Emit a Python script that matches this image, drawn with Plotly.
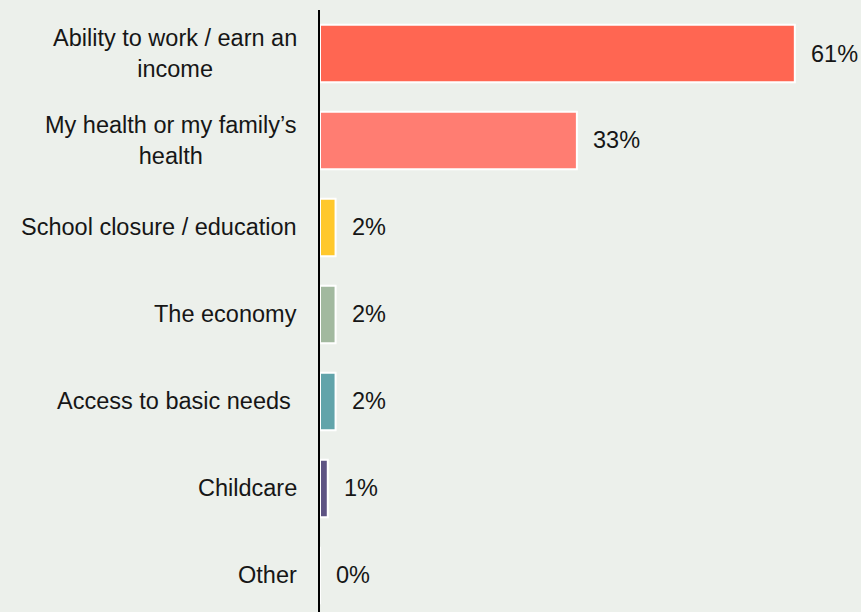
import plotly.graph_objects as go

# Survey responses: biggest concern
categories = [
    "Ability to work / earn an<br>income",
    "My health or my family’s<br>health",
    "School closure / education",
    "The economy",
    "Access to basic needs ",
    "Childcare",
    "Other",
]
values = [61, 33, 2, 2, 2, 1, 0]
bar_colors = ["#FF6652", "#FF7D72", "#FFC82C", "#A2B99F", "#61A4AA", "#5D5383", "#FFFFFF"]

BG = "#ECF0EB"
TEXT = "#161616"
FONT = "Liberation Sans, Arial, Helvetica, sans-serif"
FSIZE = 23.5

fig = go.Figure(
    go.Bar(
        x=values,
        y=categories,
        orientation="h",
        marker=dict(color=bar_colors, line=dict(color="white", width=2)),
        hoverinfo="skip",
    )
)

# Category labels, centred multi-line text to the left of the axis
for cat in categories:
    fig.add_annotation(
        x=0, xref="paper", y=cat, yref="y",
        text=cat, showarrow=False,
        xanchor="right", xshift=-21, align="center",
        font=dict(family=FONT, size=FSIZE, color=TEXT),
    )

# Value labels to the right of each bar
for cat, v in zip(categories, values):
    fig.add_annotation(
        x=v, xref="x", y=cat, yref="y",
        text=f"{v}%", showarrow=False,
        xanchor="left", xshift=14,
        font=dict(family=FONT, size=FSIZE, color=TEXT),
    )

fig.update_layout(
    width=861, height=612,
    margin=dict(l=320, r=0, t=10, b=0),
    paper_bgcolor=BG, plot_bgcolor=BG,
    bargap=0.34,
    showlegend=False,
    xaxis=dict(range=[0, 69.5], visible=False, fixedrange=True),
    yaxis=dict(
        range=[6.42, -0.5],
        showticklabels=False, ticks="",
        showgrid=False, zeroline=False,
        showline=True, linecolor="black", linewidth=2,
        fixedrange=True,
    ),
)

fig.write_html("out.html")
